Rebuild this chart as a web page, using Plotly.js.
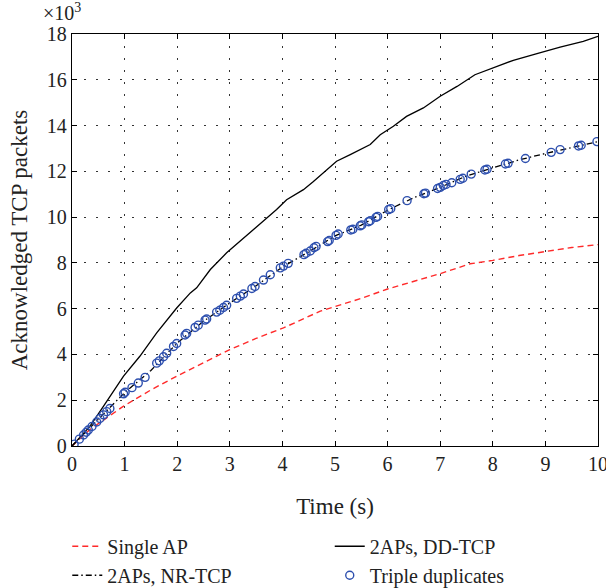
<!DOCTYPE html>
<html>
<head>
<meta charset="utf-8">
<script src="https://cdn.plot.ly/plotly-3.0.1.min.js"></script>
<style>html,body{margin:0;padding:0;background:#fff;}#chart{width:606px;height:588px;}</style>
</head>
<body>
<div id="chart"></div>
<script>
// Single AP (red dashed)
const singleT = [0, 0.34, 0.98, 1.5, 1.99, 2.5, 3.0, 3.5, 4.02, 4.72, 5.0, 5.5, 6.0, 6.5, 7.0, 7.57, 8.0, 8.5, 9.0, 9.5, 10];
const singleV = [0, 0.72, 1.74, 2.45, 3.05, 3.65, 4.21, 4.7, 5.16, 5.89, 6.1, 6.45, 6.86, 7.2, 7.53, 7.96, 8.11, 8.32, 8.51, 8.67, 8.8];

// 2APs, DD-TCP (black solid)
const ddT = [0, 0.34, 0.6, 0.98, 1.29, 1.61, 1.99, 2.25, 2.37, 2.63, 2.94, 3.5, 3.89, 4.08, 4.4, 4.59, 5.03, 5.29, 5.67, 5.86, 6.11, 6.36, 6.68, 7.0, 7.32, 7.66, 8.01, 8.39, 8.84, 9.28, 9.72, 10];
const ddV = [0, 0.86, 1.74, 3.05, 3.92, 4.94, 6.03, 6.69, 6.91, 7.71, 8.44, 9.55, 10.33, 10.76, 11.2, 11.56, 12.44, 12.73, 13.17, 13.6, 13.97, 14.4, 14.77, 15.28, 15.71, 16.22, 16.51, 16.85, 17.14, 17.43, 17.68, 17.9];

// 2APs, NR-TCP (black dash-dot)
const nrT = [0, 0.5, 1.0, 1.5, 2.0, 2.5, 3.0, 3.5, 4.0, 4.5, 5.0, 5.5, 6.0, 6.5, 7.0, 7.5, 8.0, 8.5, 9.0, 9.5, 10];
const nrV = [0, 1.15, 2.33, 3.3, 4.5, 5.45, 6.25, 7.0, 7.82, 8.48, 9.18, 9.65, 10.3, 10.85, 11.3, 11.8, 12.15, 12.5, 12.78, 13.05, 13.3];

// Triple duplicates (blue open circles)
const dupT = [0.04, 0.14, 0.22, 0.27, 0.31, 0.38, 0.47, 0.53, 0.60, 0.66, 0.72, 0.98, 1.01, 1.14, 1.26, 1.39, 1.61, 1.66, 1.74, 1.80, 1.93, 1.99, 2.15, 2.18, 2.34, 2.40, 2.53, 2.56, 2.75, 2.81, 2.88, 2.94, 3.13, 3.20, 3.26, 3.42, 3.48, 3.64, 3.77, 3.96, 4.02, 4.11, 4.41, 4.45, 4.53, 4.60, 4.64, 4.86, 4.89, 5.02, 5.06, 5.30, 5.34, 5.48, 5.51, 5.64, 5.67, 5.78, 5.81, 6.02, 6.06, 6.37, 6.69, 6.72, 6.95, 7.0, 7.06, 7.11, 7.22, 7.38, 7.43, 7.59, 7.85, 7.89, 8.24, 8.29, 8.62, 9.11, 9.28, 9.63, 9.68, 9.98];
const dupV = [0.08, 0.3, 0.48, 0.6, 0.7, 0.85, 1.05, 1.2, 1.36, 1.5, 1.64, 2.28, 2.35, 2.55, 2.75, 3.0, 3.62, 3.72, 3.9, 4.05, 4.35, 4.48, 4.85, 4.92, 5.18, 5.28, 5.5, 5.55, 5.85, 5.93, 6.05, 6.15, 6.45, 6.55, 6.64, 6.88, 6.97, 7.25, 7.48, 7.78, 7.86, 7.98, 8.36, 8.42, 8.52, 8.66, 8.72, 8.93, 8.98, 9.2, 9.26, 9.44, 9.47, 9.62, 9.66, 9.8, 9.84, 9.99, 10.03, 10.33, 10.37, 10.72, 11.02, 11.05, 11.25, 11.3, 11.38, 11.43, 11.5, 11.65, 11.7, 11.88, 12.06, 12.09, 12.32, 12.35, 12.56, 12.83, 12.95, 13.11, 13.14, 13.3];

const xTicks = [0,1,2,3,4,5,6,7,8,9,10];
const yTicks = [0,2,4,6,8,10,12,14,16,18];

const FONT = '"Liberation Serif", "DejaVu Serif", serif';
const TXT = '#222';

const traces = [
  {x: singleT, y: singleV, mode: 'lines', name: 'Single AP', legend: 'legend',
   line: {color: '#ff2a2a', width: 1.4, dash: '6px,4px'}},
  {x: ddT, y: ddV, mode: 'lines', name: '2APs, DD-TCP', legend: 'legend2',
   line: {color: '#000000', width: 1.3}},
  {x: nrT, y: nrV, mode: 'lines', name: '2APs, NR-TCP', legend: 'legend',
   line: {color: '#000000', width: 1.3, dash: '6px,3px,1.5px,3px'}},
  {x: dupT, y: dupV, mode: 'markers', name: 'Triple duplicates', legend: 'legend2',
   marker: {symbol: 'circle-open', color: '#2d4fae', size: 8, line: {width: 1.4, color: '#2d4fae'}}}
];

const axisCommon = {
  showline: true, linecolor: '#000', linewidth: 1.2, mirror: 'ticks',
  ticks: 'inside', ticklen: 5, tickcolor: '#000', tickwidth: 1,
  showgrid: true, gridcolor: '#333', gridwidth: 1, griddash: '1.5px,10.5px',
  zeroline: false, tickfont: {family: FONT, size: 20, color: TXT},
  ticklabeloverflow: 'allow'
};

const layout = {
  width: 606, height: 588,
  margin: {l: 72, r: 8, t: 34, b: 141.5, autoexpand: false},
  paper_bgcolor: '#fff', plot_bgcolor: '#fff',
  font: {family: FONT, color: TXT},
  xaxis: Object.assign({}, axisCommon, {
    range: [0, 10], tickvals: xTicks, ticktext: xTicks.map(String), automargin: false,
    title: {text: 'Time (s)', font: {family: FONT, size: 23, color: TXT}, standoff: 23}
  }),
  yaxis: Object.assign({}, axisCommon, {
    range: [0, 18], tickvals: yTicks, ticktext: yTicks.map(String), automargin: false,
    title: {text: 'Acknowledged TCP packets', font: {family: FONT, size: 23, color: TXT}, standoff: 12}
  }),
  showlegend: true,
  legend: {x: -0.009, y: -0.196, xanchor: 'left', yanchor: 'top', orientation: 'v',
    bgcolor: 'rgba(0,0,0,0)', font: {family: FONT, size: 20, color: TXT}, tracegroupgap: 0},
  legend2: {x: 0.49, y: -0.196, xanchor: 'left', yanchor: 'top', orientation: 'v',
    bgcolor: 'rgba(0,0,0,0)', font: {family: FONT, size: 20, color: TXT}, tracegroupgap: 0},
  annotations: [{
    xref: 'paper', yref: 'paper', x: -0.058, y: 1.02, xanchor: 'left', yanchor: 'bottom',
    text: '×10<sup>3</sup>', showarrow: false, font: {family: FONT, size: 20, color: TXT}
  }]
};

Plotly.newPlot('chart', traces, layout, {displayModeBar: false, staticPlot: true});
</script>
</body>
</html>
